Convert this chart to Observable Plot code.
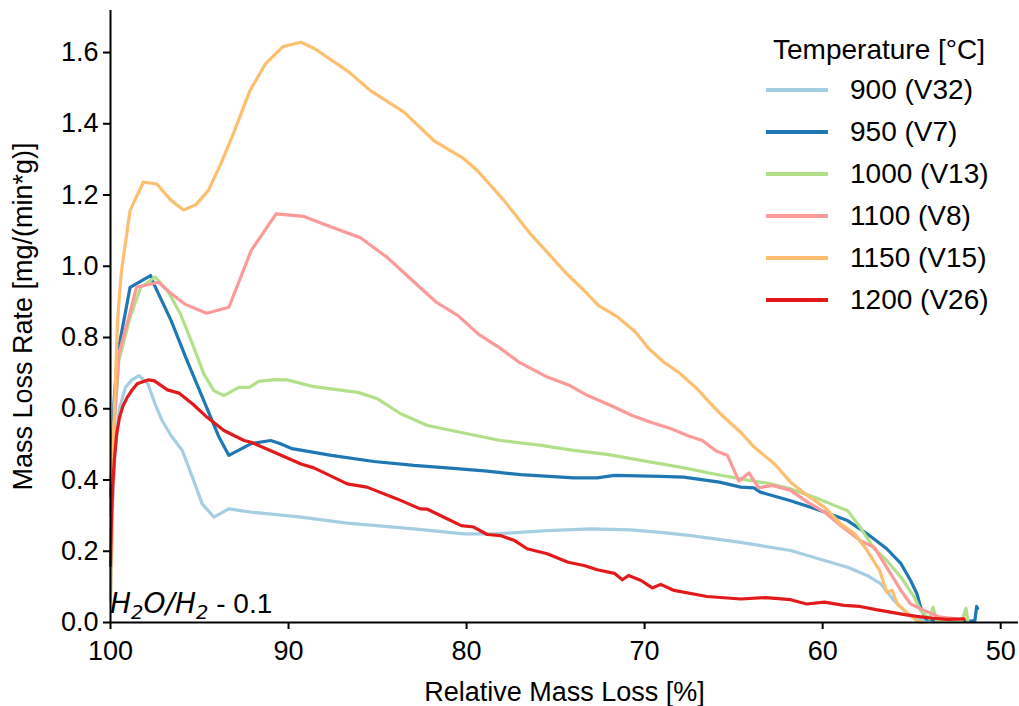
<!DOCTYPE html>
<html><head><meta charset="utf-8">
<script src="https://cdn.jsdelivr.net/npm/d3@7"></script>
<script src="https://cdn.jsdelivr.net/npm/@observablehq/plot@0.6"></script>
<style>
body{margin:0;background:#fff}
#wrap{position:relative;width:1019px;height:706px;font-family:"Liberation Sans",Arial,sans-serif;color:#000}
#legend{position:absolute;left:766px;top:31px;font-size:28px}
#legend .title{height:38px;line-height:38px;width:226px;text-align:center}
#legend .row{height:42px;display:flex;align-items:center}
#legend .sw{width:62px;height:3.2px;margin-right:22px}
</style></head>
<body><div id="wrap"></div>
<script>
const seriesLabels = ["900 (V32)", "950 (V7)", "1000 (V13)", "1100 (V8)", "1150 (V15)", "1200 (V26)"];
const seriesColors = ["#a6cee3", "#1f78b4", "#b2df8a", "#fb9a99", "#fdbf6f", "#e31a1c"];
const xTicks = [100, 90, 80, 70, 60, 50];
const yTicks = [0, 0.2, 0.4, 0.6, 0.8, 1.0, 1.2, 1.4, 1.6];

const x900 = [100, 99.9, 99.75, 99.5, 99.16, 98.8, 98.4, 97.9, 97.5, 97.1, 96.6, 95.97, 95.4, 94.85, 94.2, 93.35, 92.1, 89.3, 86.7, 82.96, 80.15, 78.3, 75.47, 73.0, 70.8, 69.1, 67.4, 64.6, 61.8, 59.9, 58.6, 57.5, 56.74, 56.0, 55.24, 54.6, 53.8];
const y900 = [0.06, 0.3, 0.48, 0.6, 0.66, 0.681, 0.693, 0.67, 0.614, 0.567, 0.525, 0.483, 0.408, 0.333, 0.296, 0.319, 0.31, 0.296, 0.279, 0.263, 0.249, 0.249, 0.258, 0.263, 0.26, 0.253, 0.244, 0.225, 0.202, 0.174, 0.155, 0.132, 0.109, 0.062, 0.024, 0.01, 0.005];

const x950 = [100, 99.8, 99.6, 98.9, 97.75, 97.56, 96.6, 95.7, 94.76, 93.9, 93.35, 92.1, 91.0, 90.45, 89.8, 87.6, 85.2, 82.96, 81.1, 78.84, 76.97, 73.97, 72.66, 71.7, 69.1, 67.8, 65.8, 64.6, 63.86, 63.5, 61.8, 60.1, 58.6, 57.5, 56.4, 55.6, 55.06, 54.7, 54.5, 54.2, 53.5, 52.5, 51.7, 51.45, 51.35, 51.3];
const y950 = [0.35, 0.62, 0.754, 0.941, 0.974, 0.95, 0.848, 0.735, 0.623, 0.52, 0.469, 0.502, 0.511, 0.502, 0.488, 0.469, 0.452, 0.441, 0.434, 0.425, 0.415, 0.406, 0.406, 0.413, 0.41, 0.408, 0.394, 0.38, 0.378, 0.366, 0.342, 0.314, 0.286, 0.249, 0.207, 0.165, 0.118, 0.08, 0.043, 0.01, 0.006, 0.005, 0.004, 0.005, 0.045, 0.04];

const x1000 = [100, 99.8, 99.53, 98.9, 98.3, 97.5, 96.8, 96.07, 95.4, 94.76, 94.2, 93.63, 92.8, 92.2, 91.67, 90.8, 90.07, 88.58, 86.1, 85.0, 83.7, 82.2, 79.96, 78.1, 75.8, 74.0, 72.1, 70.2, 68.0, 66.3, 64.6, 62.9, 61.8, 60.5, 59.55, 58.6, 57.9, 57.1, 56.4, 55.6, 54.85, 54.5, 54.0, 53.8, 53.6, 53.0, 52.2, 51.95, 51.85];
const y1000 = [0.3, 0.55, 0.735, 0.857, 0.941, 0.97, 0.932, 0.866, 0.782, 0.698, 0.651, 0.637, 0.66, 0.66, 0.677, 0.682, 0.681, 0.662, 0.646, 0.628, 0.586, 0.553, 0.53, 0.511, 0.497, 0.483, 0.472, 0.455, 0.436, 0.419, 0.403, 0.389, 0.375, 0.352, 0.333, 0.314, 0.268, 0.207, 0.174, 0.127, 0.071, 0.034, 0.01, 0.043, 0.005, 0.004, 0.003, 0.04, 0.004];

const x1100 = [100, 99.8, 99.53, 98.97, 98.54, 97.3, 96.8, 95.8, 94.6, 93.35, 92.1, 90.7, 89.14, 87.6, 85.96, 84.46, 83.15, 81.7, 80.5, 79.3, 78.2, 77.06, 75.47, 74.2, 73.2, 71.9, 70.7, 69.66, 68.5, 67.6, 66.76, 66.0, 65.35, 64.7, 64.14, 63.6, 62.8, 61.8, 60.85, 59.9, 58.99, 57.9, 57.1, 56.4, 55.6, 55.06, 54.3, 53.4, 52.5];
const y1100 = [0.3, 0.55, 0.754, 0.857, 0.941, 0.955, 0.932, 0.893, 0.868, 0.885, 1.044, 1.147, 1.14, 1.11, 1.08, 1.025, 0.965, 0.899, 0.862, 0.808, 0.773, 0.731, 0.689, 0.665, 0.637, 0.609, 0.581, 0.562, 0.544, 0.525, 0.511, 0.482, 0.469, 0.397, 0.42, 0.378, 0.385, 0.371, 0.338, 0.31, 0.272, 0.23, 0.211, 0.155, 0.09, 0.052, 0.034, 0.015, 0.01];

const x1150 = [100, 99.85, 99.6, 99.4, 98.9, 98.16, 97.4, 96.6, 95.9, 95.2, 94.5, 93.8, 93.07, 92.17, 91.3, 90.3, 89.3, 88.5, 86.6, 85.4, 83.5, 81.8, 80.15, 79.4, 77.9, 76.4, 75.3, 74.4, 73.4, 72.6, 71.5, 70.5, 69.75, 68.9, 68.1, 67.05, 66.1, 65.45, 64.6, 63.9, 62.7, 61.8, 60.85, 59.9, 58.99, 58.2, 57.5, 56.8, 56.4, 56.1, 55.8, 55.2, 54.7, 54.4];
const y1150 = [0.07, 0.5, 0.85, 0.98, 1.157, 1.236, 1.231, 1.185, 1.158, 1.173, 1.213, 1.288, 1.376, 1.493, 1.568, 1.617, 1.629, 1.61, 1.545, 1.493, 1.432, 1.351, 1.302, 1.269, 1.185, 1.09, 1.03, 0.98, 0.932, 0.89, 0.857, 0.815, 0.768, 0.73, 0.703, 0.656, 0.604, 0.572, 0.534, 0.495, 0.445, 0.394, 0.356, 0.324, 0.277, 0.249, 0.202, 0.146, 0.085, 0.09, 0.052, 0.025, 0.005, 0.0];

const x1200 = [100, 99.95, 99.88, 99.78, 99.65, 99.5, 99.3, 99.06, 98.75, 98.5, 97.9, 97.56, 96.8, 96.16, 95.4, 94.57, 93.63, 92.5, 92.1, 90.8, 89.3, 88.58, 86.7, 85.6, 83.9, 82.6, 82.2, 81.3, 80.3, 79.6, 78.84, 78.1, 77.3, 76.6, 75.47, 74.3, 73.4, 72.66, 71.7, 71.25, 70.9, 70.2, 69.57, 69.1, 68.35, 66.5, 64.6, 63.2, 61.8, 60.9, 59.9, 58.8, 57.9, 57.0, 56.2, 55.4, 54.7, 53.8, 53.0, 52.06];
const y1200 = [0.16, 0.28, 0.38, 0.46, 0.53, 0.575, 0.608, 0.632, 0.655, 0.67, 0.681, 0.679, 0.653, 0.644, 0.614, 0.576, 0.539, 0.511, 0.506, 0.478, 0.445, 0.434, 0.389, 0.38, 0.347, 0.319, 0.318, 0.296, 0.272, 0.268, 0.247, 0.244, 0.23, 0.207, 0.193, 0.169, 0.16, 0.148, 0.138, 0.12, 0.132, 0.118, 0.097, 0.107, 0.09, 0.073, 0.066, 0.07, 0.064, 0.052, 0.057, 0.048, 0.045, 0.036, 0.029, 0.022, 0.017, 0.012, 0.009, 0.01];

const seriesX = [x900, x950, x1000, x1100, x1150, x1200];
const seriesY = [y900, y950, y1000, y1100, y1150, y1200];

const data = [];
seriesLabels.forEach((s, i) => seriesX[i].forEach((xv, j) => data.push({series: s, x: xv, y: seriesY[i][j]})));

const font = '"Liberation Sans", Arial, sans-serif';
const plot = Plot.plot({
  width: 1019, height: 706,
  marginLeft: 110, marginRight: 1, marginTop: 10, marginBottom: 84,
  style: {fontFamily: font, background: "white", color: "black", overflow: "visible"},
  x: {domain: [100, 49]},
  y: {domain: [0, 1.718]},
  color: {domain: seriesLabels, range: seriesColors},
  marks: [
    Plot.line(data, {x: "x", y: "y", z: "series", stroke: "series", strokeWidth: 3.2, strokeLinejoin: "round"}),
    Plot.ruleX([100], {strokeWidth: 2, stroke: "black"}),
    Plot.ruleY([0], {strokeWidth: 2, stroke: "black"}),
    Plot.axisX({ticks: xTicks, tickSize: 7, tickPadding: 11, strokeWidth: 2, fontSize: 27,
      label: "Relative Mass Loss [%]", labelAnchor: "center", labelArrow: "none", labelOffset: 78}),
    Plot.axisY({ticks: yTicks, tickSize: 7, tickPadding: 5, strokeWidth: 2, fontSize: 27, tickFormat: d3.format(".1f"),
      label: "Mass Loss Rate [mg/(min*g)]", labelAnchor: "center", labelArrow: "none", labelOffset: 98})
  ]
});

const wrap = document.getElementById("wrap");
wrap.appendChild(plot);

// annotation
const sx = plot.scale("x"), sy = plot.scale("y");
const svg = d3.select(plot);
const mathFont = '"DejaVu Sans", sans-serif';
const t = svg.append("text")
  .attr("x", sx.apply(100)).attr("y", sy.apply(0) - 9)
  .attr("text-anchor", "start")
  .attr("font-size", 28).attr("fill", "black").attr("font-family", font);
t.append("tspan").attr("font-style", "italic").attr("font-family", mathFont).attr("font-size", 28).text("H");
t.append("tspan").attr("font-style", "italic").attr("font-family", mathFont).attr("font-size", 19.5).attr("dy", 6).text("2");
t.append("tspan").attr("font-style", "italic").attr("font-family", mathFont).attr("font-size", 28).attr("dy", -6).text("O/H");
t.append("tspan").attr("font-style", "italic").attr("font-family", mathFont).attr("font-size", 19.5).attr("dy", 6).text("2");
t.append("tspan").attr("dy", -6).text(" - 0.1");

// legend
const lg = document.createElement("div");
lg.id = "legend";
let html = '<div class="title">Temperature [°C]</div>';
seriesLabels.forEach((s, i) => {
  html += `<div class="row"><span class="sw" style="background:${seriesColors[i]}"></span><span>${s}</span></div>`;
});
lg.innerHTML = html;
wrap.appendChild(lg);
</script>
</body></html>
